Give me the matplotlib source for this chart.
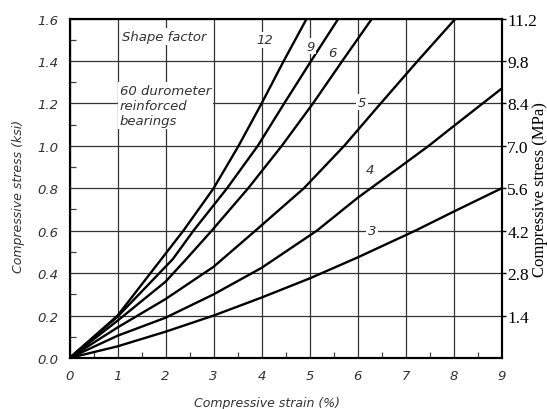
import matplotlib.pyplot as plt
from matplotlib.ticker import AutoMinorLocator

# Stress-strain curves, one per shape factor
strain_3 = [0, 1, 2, 3, 4, 5, 6, 7.2, 8, 9]
stress_3 = [0, 0.055, 0.124, 0.2, 0.285, 0.375, 0.474, 0.6, 0.69, 0.80]

strain_4 = [0, 1, 2, 3, 4, 5.15, 6, 7, 7.48, 8, 9]
stress_4 = [0, 0.105, 0.19, 0.30, 0.425, 0.6, 0.755, 0.92, 1.0, 1.093, 1.27]

strain_5 = [0, 1, 2, 3, 3.87, 4.88, 5.72, 6.48, 7.25, 8.04]
stress_5 = [0, 0.144, 0.278, 0.43, 0.6, 0.8, 1.0, 1.2, 1.4, 1.6]

strain_6 = [0, 1, 2, 2.43, 2.96, 3.72, 4.42, 5.07, 5.68, 6.3]
stress_6 = [0, 0.176, 0.36, 0.466, 0.6, 0.8, 1.0, 1.2, 1.4, 1.6]

strain_9 = [0, 1, 2.15, 2.58, 3.28, 3.92, 4.47, 5.03, 5.6]
stress_9 = [0, 0.195, 0.466, 0.6, 0.8, 1.0, 1.2, 1.4, 1.6]

strain_12 = [0, 1, 2.37, 3.0, 3.52, 4.0, 4.46, 4.94]
stress_12 = [0, 0.2, 0.6, 0.8, 1.0, 1.2, 1.4, 1.6]

curves = [("3", strain_3, stress_3), ("4", strain_4, stress_4),
          ("5", strain_5, stress_5), ("6", strain_6, stress_6),
          ("9", strain_9, stress_9), ("12", strain_12, stress_12)]

# Axis ticks
strain_ticks = [0, 1, 2, 3, 4, 5, 6, 7, 8, 9]
ksi_ticks = [0.0, 0.2, 0.4, 0.6, 0.8, 1.0, 1.2, 1.4, 1.6]
mpa_ticks = [1.4, 2.8, 4.2, 5.6, 7.0, 8.4, 9.8, 11.2]

# where each shape factor number sits (strain, stress)
label_pos = {"3": (6.30, 0.602), "4": (6.26, 0.889), "5": (6.09, 1.206),
             "6": (5.47, 1.44), "9": (5.01, 1.47), "12": (4.07, 1.50)}

cad = dict(family="DejaVu Sans", style="oblique")
serif = dict(family="Liberation Serif")

fig = plt.figure(figsize=(5.47, 4.10), dpi=100)
ax = fig.add_axes([0.1272, 0.1244, 0.7900, 0.8280])

for name, xs, ys in curves:
    ax.plot(xs, ys, color="black", lw=1.7, zorder=2)
    lx, ly = label_pos[name]
    ax.text(lx, ly, name, ha="center", va="center", fontsize=9.5, color="#333333",
            bbox=dict(facecolor="white", edgecolor="none", pad=1.0), zorder=4, **cad)

ax.set_xlim(0, 9)
ax.set_ylim(0, 1.6)
ax.set_xticks(strain_ticks)
ax.set_yticks(ksi_ticks)
ax.set_xticklabels([str(t) for t in strain_ticks], fontsize=9.5, color="#333333", **cad)
ax.set_yticklabels(["%.1f" % t for t in ksi_ticks], fontsize=9.5, color="#333333", **cad)
ax.xaxis.set_minor_locator(AutoMinorLocator(2))
ax.yaxis.set_minor_locator(AutoMinorLocator(2))
ax.tick_params(which="major", length=0, pad=8)
ax.tick_params(which="minor", direction="in", length=4, width=0.9, color="0.25")
ax.grid(which="major", color="0.2", lw=0.9)
for s in ax.spines.values():
    s.set_linewidth(1.5)

ax.set_xlabel("Compressive strain (%)", fontsize=9, color="#333333", **cad)
ax.xaxis.set_label_coords(0.458, -0.112)
ax.set_ylabel("Compressive stress (ksi)", fontsize=9, color="#333333", **cad)
ax.yaxis.set_label_coords(-0.103, 0.48)

# notes in the upper left
ax.text(1.09, 1.517, "Shape factor", ha="left", va="center", fontsize=9.5, color="#333333",
        bbox=dict(facecolor="white", edgecolor="none", pad=1.5), zorder=4, **cad)
ax.text(1.05, 1.19, "60 durometer\nreinforced\nbearings", ha="left", va="center",
        fontsize=9.5, linespacing=1.2, color="#333333",
        bbox=dict(facecolor="white", edgecolor="none", pad=1.5), zorder=4, **cad)

# MPa scale on the right
ax2 = ax.twinx()
ax2.set_ylim(0, 11.2)
ax2.set_yticks(mpa_ticks)
ax2.set_yticklabels(["%.1f" % t for t in mpa_ticks], fontsize=12.5, **serif)
ax2.tick_params(axis="y", direction="out", length=3, width=1, pad=1)
ax2.set_ylabel("Compressive stress (MPa)", fontsize=12, **serif)
ax2.yaxis.set_label_coords(1.071, 0.5)
for s in ax2.spines.values():
    s.set_linewidth(1.5)

fig.savefig("out.png", dpi=100)
